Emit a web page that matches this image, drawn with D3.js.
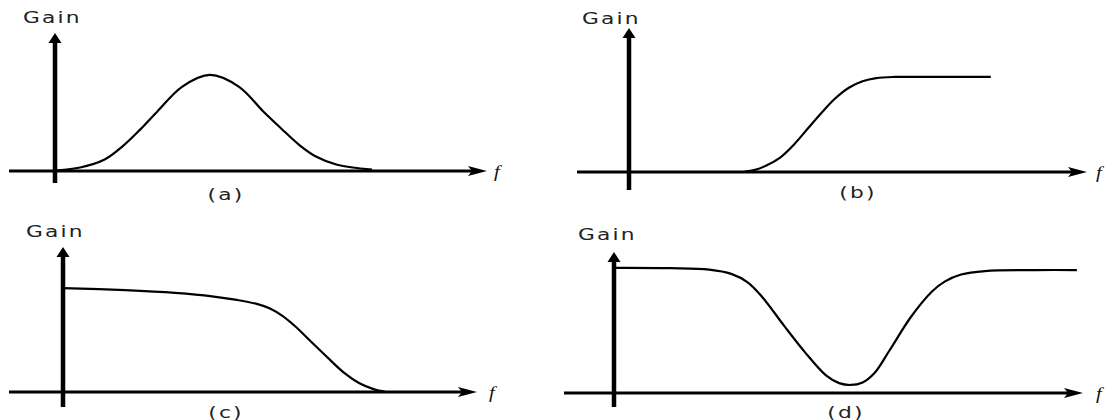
<!DOCTYPE html>
<html>
<head>
<meta charset="utf-8">
<script src="https://cdn.jsdelivr.net/npm/d3@7"></script>
<style>
  html, body { margin: 0; padding: 0; background: #fff; }
  svg { display: block; }
</style>
</head>
<body>
<div id="chart"></div>
<script>
/* global d3 */

const WIDTH = 1105
const HEIGHT = 420

// text
const panelLabels = ['(a)', '(b)', '(c)', '(d)']
const gainLabel = 'Gain'
const freqLabel = 'f'

// (a) band pass, frequency / gain in % of the axis length
const bandPassFreq = [0.5, 5.8, 11.6, 15.5, 19.7, 23.8, 29.4, 35.9, 42.6, 48.1, 52.3, 56.5, 60.4, 65.3, 73.4]
const bandPassGain = [0.5, 2.5, 8.5, 17.5, 30.0, 43.5, 61.0, 69.6, 61.0, 43.5, 31.0, 19.0, 10.5, 4.5, 1.0]

// (b) high pass
const highPassFreq = [24.9, 27.5, 30, 33, 36, 39, 42, 45, 48, 51, 54, 58, 65, 79]
const highPassGain = [0, 1.5, 4.5, 10, 19, 30, 41, 51, 58.5, 63, 65.2, 66, 66, 66]

// (c) low pass
const lowPassFreq = [0, 15, 27.1, 36, 42, 47, 50, 53, 56, 60, 64, 68, 71.5, 75, 78]
const lowPassGain = [71.7, 70.2, 68.3, 66, 63.5, 60.6, 57.6, 52.5, 45.5, 34.5, 23.5, 13, 6.2, 2, 0]

// (d) band stop
const bandStopFreq = [0, 12, 20.3, 25, 28.5, 31.6, 36.2, 40.7, 45.2, 48, 50.5, 53, 55.5, 58.8, 63.3, 67.8, 70.5, 74, 79.1, 90, 98.7]
const bandStopGain = [88.7, 88.5, 87.5, 84.5, 78.5, 68.1, 48, 29, 12.5, 7, 5.7, 7.5, 14, 30.5, 53.9, 72, 79, 84, 86.5, 87.2, 87.2]

const series = [
  { freq: bandPassFreq, gain: bandPassGain },
  { freq: highPassFreq, gain: highPassGain },
  { freq: lowPassFreq, gain: lowPassGain },
  { freq: bandStopFreq, gain: bandStopGain }
]

// layout of every panel (pixels)
const layouts = [
  { ox: 55, tip: 487, left: 9, base: 171, top: 33, bottom: 183, gainX: 23, gainY: 23, labX: 226, labY: 200, fX: 494, fY: 177 },
  { ox: 629, tip: 1087, left: 577, base: 172, top: 28, bottom: 190, gainX: 582, gainY: 24, labX: 858, labY: 198, fX: 1096, fY: 178 },
  { ox: 63, tip: 477, left: 9, base: 392, top: 247, bottom: 407, gainX: 26, gainY: 237, labX: 226, labY: 418, fX: 489, fY: 398 },
  { ox: 614, tip: 1083, left: 564, base: 393, top: 252, bottom: 407, gainX: 578, gainY: 240, labX: 846, labY: 418, fX: 1096, fY: 399 }
]

// the picture is stretched sideways, so the text is too
const TEXT_STRETCH = 1.45

const svg = d3.select('#chart')
  .append('svg')
  .attr('width', WIDTH)
  .attr('height', HEIGHT)

svg.append('rect')
  .attr('width', WIDTH)
  .attr('height', HEIGHT)
  .attr('fill', '#fff')

layouts.forEach((L, i) => {
  const g = svg.append('g')
  const x = d3.scaleLinear().domain([0, 100]).range([L.ox, L.tip])
  const y = d3.scaleLinear().domain([0, 100]).range([L.base, L.top])

  // horizontal axis (frequency)
  g.append('line')
    .attr('x1', L.left).attr('x2', x(100) - 12)
    .attr('y1', y(0)).attr('y2', y(0))
    .attr('stroke', '#000')
    .attr('stroke-width', 2.8)
  g.append('path')
    .attr('d', `M${x(100)},${y(0)} L${x(100) - 19},${y(0) - 5} L${x(100) - 15},${y(0)} L${x(100) - 19},${y(0) + 5} Z`)
    .attr('fill', '#000')

  // vertical axis (gain)
  g.append('line')
    .attr('x1', x(0)).attr('x2', x(0))
    .attr('y1', L.bottom).attr('y2', y(100) + 8)
    .attr('stroke', '#000')
    .attr('stroke-width', 4.5)
  g.append('path')
    .attr('d', `M${x(0)},${y(100)} L${x(0) - 6.5},${y(100) + 10} L${x(0) + 6.5},${y(100) + 10} Z`)
    .attr('fill', '#000')

  // response curve
  const s = series[i]
  const pts = s.freq.map((f, k) => [f, s.gain[k]])
  g.append('path')
    .datum(pts)
    .attr('d', d3.line()
      .x((d) => x(d[0]))
      .y((d) => y(d[1]))
      .curve(d3.curveCatmullRom.alpha(0.5)))
    .attr('fill', 'none')
    .attr('stroke', '#000')
    .attr('stroke-width', 2.2)

  // texts
  g.append('text')
    .attr('transform', `translate(${L.gainX},${L.gainY}) scale(${TEXT_STRETCH},1)`)
    .text(gainLabel)
    .style('font-family', 'DejaVu Sans')
    .style('font-size', '15px')
    .style('letter-spacing', '1.5px')
    .attr('fill', '#222')

  g.append('text')
    .attr('transform', `translate(${L.labX},${L.labY}) scale(${TEXT_STRETCH},1)`)
    .attr('text-anchor', 'middle')
    .text(panelLabels[i])
    .style('font-family', 'DejaVu Sans')
    .style('font-size', '15px')
    .style('letter-spacing', '1.5px')
    .attr('fill', '#222')

  g.append('text')
    .attr('transform', `translate(${L.fX},${L.fY}) scale(1.2,1)`)
    .text(freqLabel)
    .style('font-family', 'Liberation Serif')
    .style('font-style', 'italic')
    .style('font-size', '17px')
    .attr('fill', '#111')
})
</script>
</body>
</html>
